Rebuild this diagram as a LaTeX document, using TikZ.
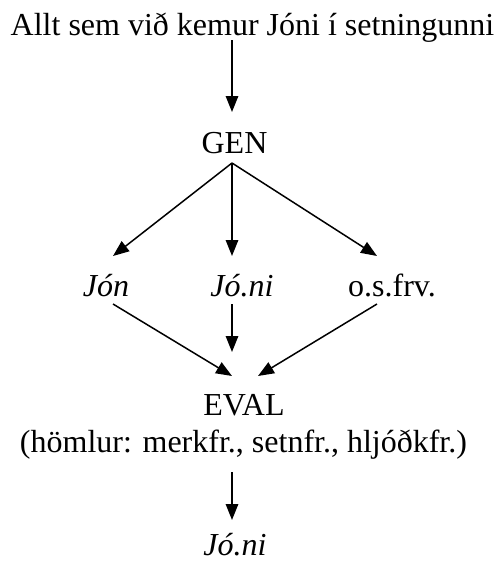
\documentclass[tikz,border=0pt]{standalone}
\usepackage{fontspec}
\setmainfont{Liberation Serif}
\usetikzlibrary{arrows.meta,calc}
\begin{document}
\begin{tikzpicture}[x=1pt,y=-1pt,
  lbl/.style={anchor=base,inner sep=0pt,font=\fontsize{32}{37}\selectfont},
  arr/.style={line width=1.5pt,-{Triangle[length=16pt,width=12.5pt]}}]
\useasboundingbox (0,0) rectangle (496,563);
\node[lbl] (top) at (252.5,35) {Allt sem við kemur Jóni í setningunni};
\node[lbl] (gen) at (234.5,153) {GEN};
\node[lbl] (jon) at (106,296) {\itshape Jón};
\node[lbl] (joni) at (242,296) {\itshape Jó.ni};
\node[lbl] (osf) at (392,296) {o.s.frv.};
\node[lbl] (eval) at (244,415) {EVAL};
\node[lbl] (hom) at (243.5,452) {(hömlur: merkfr., setnfr., hljóðkfr.)};
\node[lbl] (res) at (235,555) {\itshape Jó.ni};
\draw[arr] ($(top.base)+(-20.5,5)$) -- ($(gen.base)+(-2.5,-41)$);
\draw[arr] ($(gen.base)+(-2.5,10)$) -- ($(jon.base)+(7,-40)$);
\draw[arr] ($(gen.base)+(-2.5,10)$) -- ($(joni.base)+(-10,-40)$);
\draw[arr] ($(gen.base)+(-2.5,10)$) -- ($(osf.base)+(-15,-40)$);
\draw[arr] ($(jon.base)+(7,8)$) -- ($(eval.base)+(-12,-39)$);
\draw[arr] ($(joni.base)+(-10,8)$) -- ($(eval.base)+(-12,-63)$);
\draw[arr] ($(osf.base)+(-15,8)$) -- ($(eval.base)+(14,-39)$);
\draw[arr] ($(hom.base)+(-11.5,20)$) -- ($(res.base)+(-3,-35)$);
\end{tikzpicture}
\end{document}
